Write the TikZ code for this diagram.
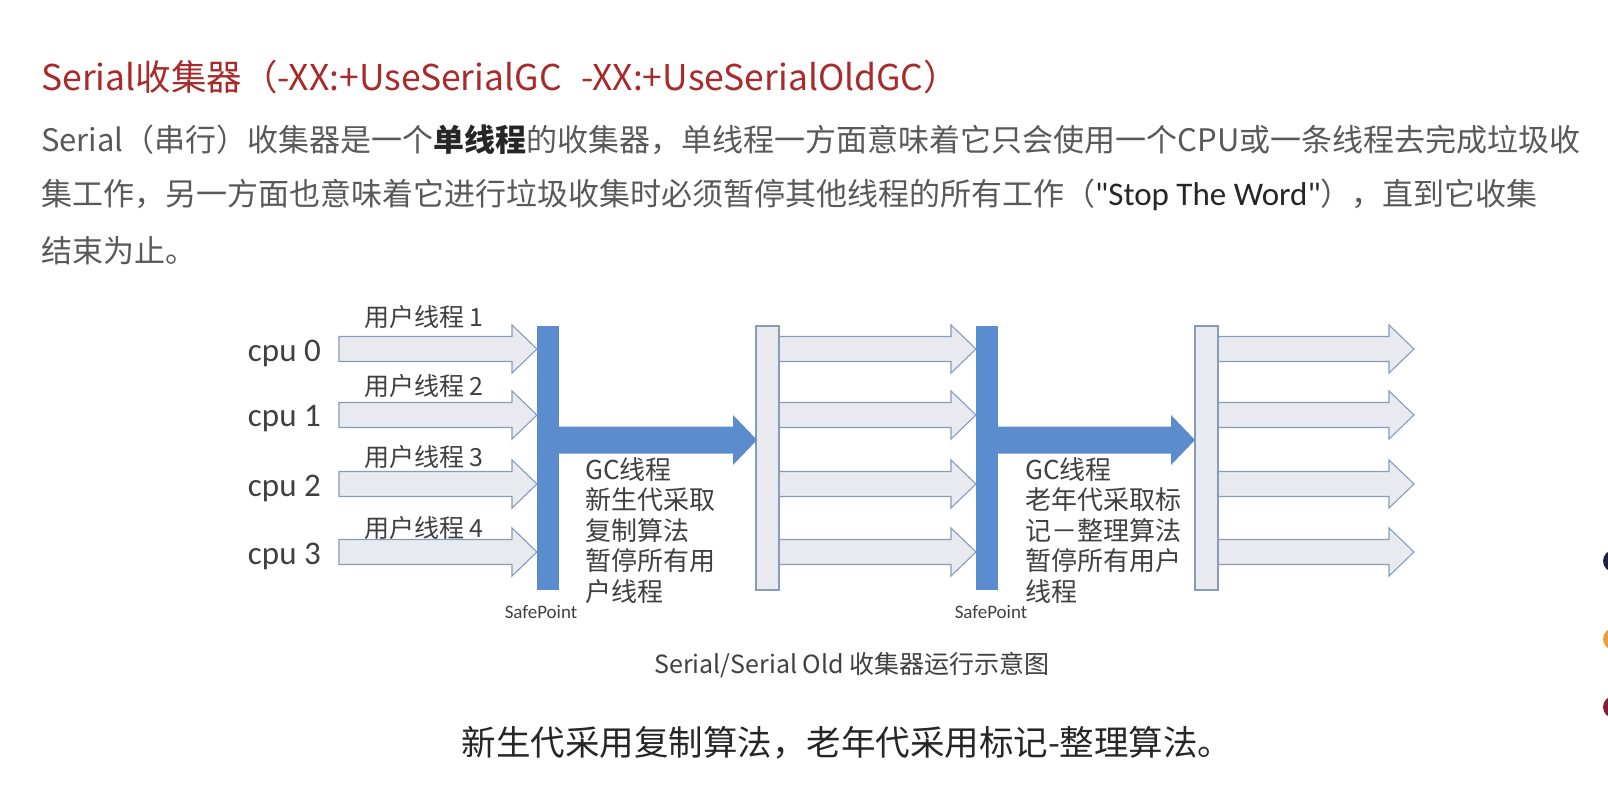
\documentclass[tikz,border=0pt]{standalone}
\usepackage{fontspec}
\setmainfont{Noto Sans CJK SC}
\newfontfamily\latinfont{Carlito}
\definecolor{titlered}{RGB}{168,42,42}
\definecolor{bodygray}{RGB}{89,89,89}
\definecolor{labelgray}{RGB}{64,64,64}
\definecolor{gcblue}{RGB}{91,141,206}
\definecolor{barfill}{RGB}{233,234,239}
\definecolor{barline}{RGB}{136,156,186}

\begin{document}
\begin{tikzpicture}[x=1pt, y=-1pt,
    thread/.style={fill=barfill, draw=barline, line width=1.1pt},
    lightbar/.style={fill=barfill, draw=barline, line width=1.1pt},
    gcbar/.style={fill=gcblue},
    txt/.style={inner sep=0pt, anchor=west}]
  \useasboundingbox[fill=white] (0,0) rectangle (1608,794);

  % Title and text
  \node[txt, text=titlered, font=\fontsize{35.5}{40}\selectfont] (title) at (41,77)
    {Serial收集器（-XX:+UseSerialGC\hspace{0.55em}-XX:+UseSerialOldGC）};
  \node[txt, text=bodygray, font=\fontsize{31}{36}\selectfont] (line1) at (41,140)
    {Serial（串行）收集器是一个{\bfseries\color{black!85}单线程}的收集器，单线程一方面意味着它只会使用一个CPU或一条线程去完成垃圾收};
  \node[txt, text=bodygray, font=\fontsize{31}{36}\selectfont] (line2) at (41,195)
    {集工作，另一方面也意味着它进行垃圾收集时必须暂停其他线程的所有工作（{\latinfont\fontsize{33}{36}\selectfont\color{black!85}"Stop The Word"}），直到它收集};
  \node[txt, text=bodygray, font=\fontsize{31}{36}\selectfont] (line3) at (41,251) {结束为止。};

  % User threads on the cpus
  \foreach \c/\t [count=\r from 0, evaluate=\r as \n using int(\r+1)] in {349/317, 415/386, 484/457, 552/528} {
    \node[anchor=east, inner sep=0pt, text=labelgray, font=\latinfont\fontsize{33}{35}\selectfont] (cpu\r) at (321,\c+4) {cpu \r};
    \node[txt, text=labelgray, font=\fontsize{25}{28}\selectfont] (thread\n) at (364,\t) {用户线程 \n};
    \foreach \xs/\xt in {339/537, 779/976, 1218/1414}
      \filldraw[thread] (\xs,{\c-12.5}) -- ({\xt-25},{\c-12.5}) -- ({\xt-25},{\c-24}) -- (\xt,\c)
        -- ({\xt-25},{\c+24}) -- ({\xt-25},{\c+12.5}) -- (\xs,{\c+12.5}) -- cycle;
  }

  % SafePoint bars
  \fill[gcbar] (537,326) rectangle (559,590);
  \fill[gcbar] (976,326) rectangle (998,590);
  \filldraw[lightbar] (756,326) rectangle (779,590);
  \filldraw[lightbar] (1195,326) rectangle (1218,590);

  % GC threads
  \fill[gcbar] (559,426.5) -- (733,426.5) -- (733,415) -- (757,440) -- (733,465) -- (733,453.5) -- (559,453.5) -- cycle;
  \fill[gcbar] (998,426.5) -- (1171,426.5) -- (1171,415) -- (1195,440) -- (1171,465) -- (1171,453.5) -- (998,453.5) -- cycle;

  \node[inner sep=0pt, anchor=north west, align=left, text=labelgray, font=\fontsize{26}{30.5}\selectfont] (gcyoung) at (585,457)
    {GC线程\\新生代采取\\复制算法\\暂停所有用\\户线程};
  \node[inner sep=0pt, anchor=north west, align=left, text=labelgray, font=\fontsize{26}{30.5}\selectfont] (gcold) at (1025,457)
    {GC线程\\老年代采取标\\记－整理算法\\暂停所有用户\\线程};
  \node[inner sep=0pt, text=labelgray, font=\latinfont\fontsize{19}{21}\selectfont] (safe1) at (541,612) {SafePoint};
  \node[inner sep=0pt, text=labelgray, font=\latinfont\fontsize{19}{21}\selectfont] (safe2) at (991,612) {SafePoint};

  % Caption
  \node[inner sep=0pt, text=labelgray, font=\fontsize{25}{28}\selectfont] (caption) at (852,665) {Serial/Serial Old 收集器运行示意图};
  \node[inner sep=0pt, text=black!85, font=\fontsize{34.5}{38}\selectfont] (summary) at (847,743) {新生代采用复制算法，老年代采用标记-整理算法。};

  % Dots at the right edge
  \begin{scope}
    \clip (0,0) rectangle (1608,794);
    \fill[fill={rgb,255:red,31;green,35;blue,64}] (1614,561) circle (11);
    \fill[fill={rgb,255:red,232;green,160;blue,64}] (1614,639) circle (11);
    \fill[fill={rgb,255:red,139;green,26;blue,58}] (1614,707) circle (11);
  \end{scope}
\end{tikzpicture}
\end{document}
